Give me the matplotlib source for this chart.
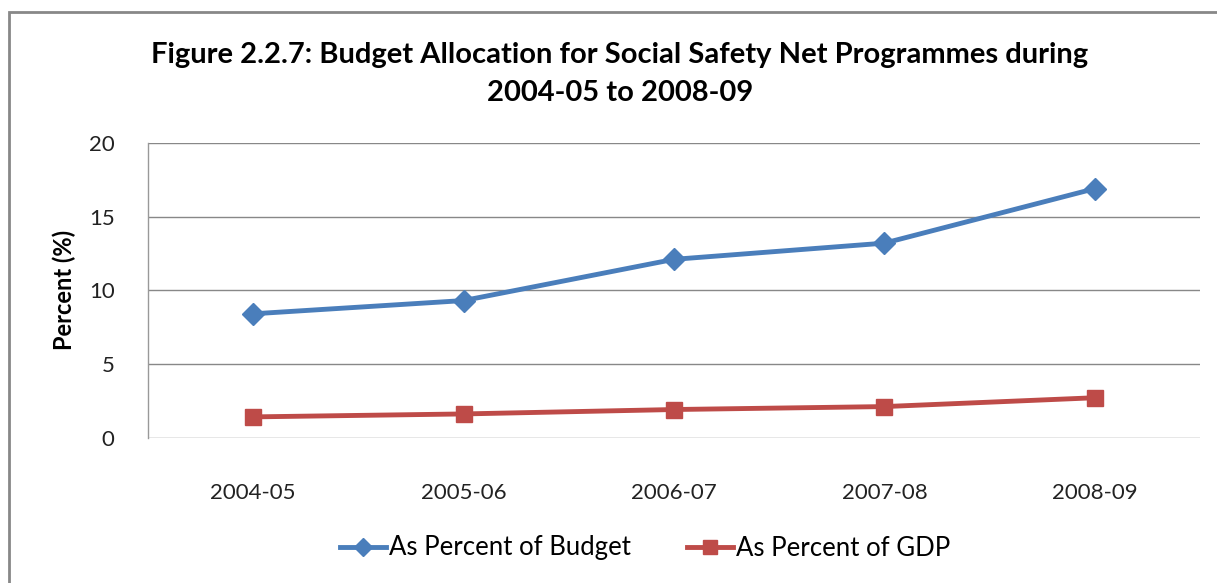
import matplotlib
matplotlib.use("Agg")
import matplotlib.pyplot as plt
from matplotlib.patches import Rectangle

categories = ["2004-05", "2005-06", "2006-07", "2007-08", "2008-09"]
pct_budget = [8.4, 9.3, 12.1, 13.2, 16.9]
pct_gdp = [1.4, 1.6, 1.9, 2.1, 2.7]
yticks = [0, 5, 10, 15, 20]

plt.rcParams['font.family'] = ['Lato', 'DejaVu Sans']

fig = plt.figure(figsize=(12.17, 5.83), dpi=100)
W, H = 1217, 583
ax = fig.add_axes([148 / W, 1 - 437.5 / H, (1200 - 148) / W, (437.5 - 143) / H])

x = list(range(len(categories)))
ax.plot(x, pct_budget, color="#4A7EBB", lw=3.5, marker="D", ms=11,
        label="As Percent of Budget")
ax.plot(x, pct_gdp, color="#BE4B48", lw=3.5, marker="s", ms=12,
        label="As Percent of GDP")

ax.set_xlim(-0.5, 4.5)
ax.set_ylim(0, 20)
ax.set_yticks(yticks)
ax.set_yticklabels([str(v) for v in yticks], fontsize=16, color="#222222")
ax.set_xticks(x)
ax.set_xticklabels(categories, fontsize=16, color="#222222")
ax.tick_params(axis="both", length=0)
ax.tick_params(axis="y", pad=24)
ax.tick_params(axis="x", pad=33)
ax.grid(axis="y", color="#888888", lw=1)
ax.set_axisbelow(True)
for s in ["top", "right", "bottom"]:
    ax.spines[s].set_visible(False)
ax.spines["left"].set_color("#999999")
ax.spines["left"].set_linewidth(1)

ax.set_ylabel("Percent (%)", fontsize=17, fontweight="bold", labelpad=9)

fig.text(620 / W, 1 - 55 / H,
         "Figure 2.2.7: Budget Allocation for Social Safety Net Programmes during",
         ha="center", va="center", fontsize=21, fontweight="bold")
fig.text(620 / W, 1 - 93 / H, "2004-05 to 2008-09",
         ha="center", va="center", fontsize=21, fontweight="bold")

leg = fig.legend(loc="center", bbox_to_anchor=(645 / W, 1 - 548 / H), ncol=2,
                 frameon=False, fontsize=18.5, handlelength=1.8,
                 handletextpad=0.1, columnspacing=2.2, markerscale=0.8)

fig.patches.append(Rectangle((9 / W, -0.1), 1.2, 1 - 12 / H + 0.1,
                             transform=fig.transFigure, fill=False,
                             edgecolor="#888888", lw=2))

fig.savefig("out.png", dpi=100)
